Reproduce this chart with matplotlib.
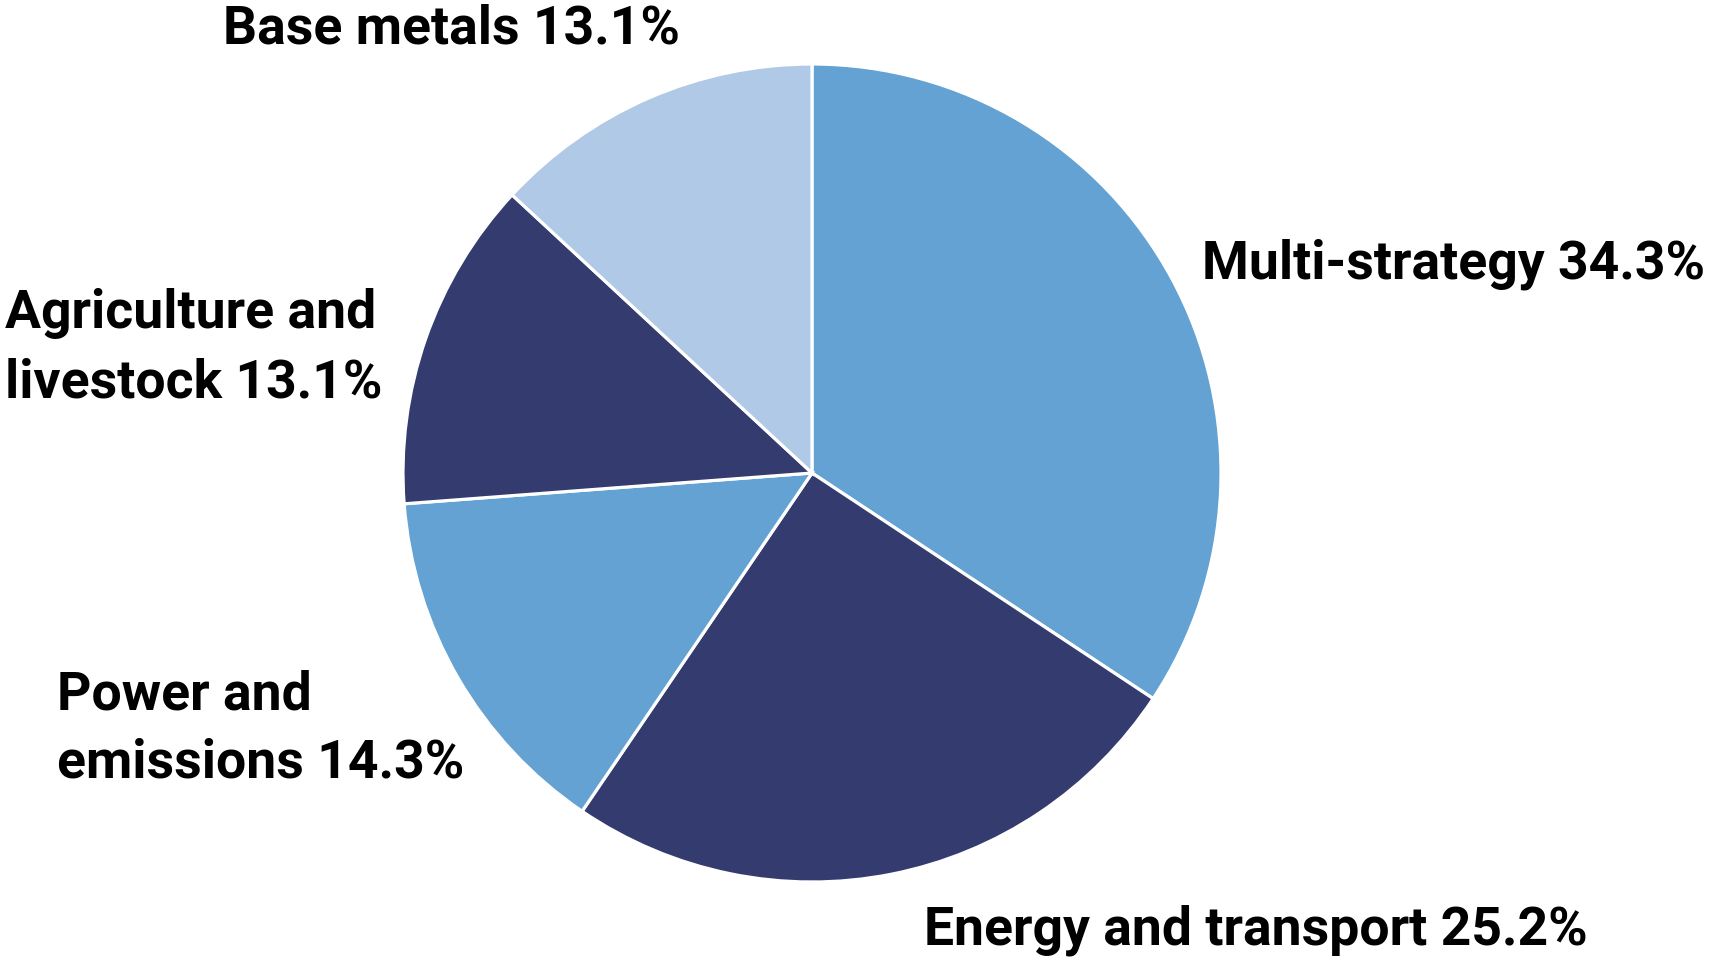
import matplotlib
matplotlib.use("Agg")
import matplotlib.pyplot as plt

# segment shares, clockwise from 12 o'clock
labels = ["Multi-strategy", "Energy and transport", "Power and\nemissions",
          "Agriculture and\nlivestock", "Base metals"]
shares = [34.3, 25.2, 14.3, 13.1, 13.1]
colors = ["#63a2d2", "#333b6f", "#63a2d2", "#333b6f", "#afc9e6"]

W, H = 1709, 959
fig = plt.figure(figsize=(W / 100, H / 100), dpi=100)

cx, cy, r = 812, 473, 409
ax = fig.add_axes([(cx - r) / W, (H - cy - r) / H, 2 * r / W, 2 * r / H])
ax.pie(shares, colors=colors, startangle=90, counterclock=False,
       wedgeprops=dict(edgecolor="white", linewidth=2.3))
ax.set_xlim(-1, 1)
ax.set_ylim(-1, 1)
ax.set_aspect("equal")
ax.axis("off")

font = dict(family=["Roboto", "DejaVu Sans"], fontweight="bold",
            fontsize=38.5, color="black", ha="left", va="center",
            linespacing=1.45)

# label anchors in pixels (left edge, vertical centre)
spots = [(1202, 264), (924, 930), (57, 729), (5, 348), (223, 29)]
for lab, val, (px, py) in zip(labels, shares, spots):
    fig.text(px / W, 1 - py / H, f"{lab} {val:.1f}%", **font)

fig.savefig("out.png", dpi=100)
